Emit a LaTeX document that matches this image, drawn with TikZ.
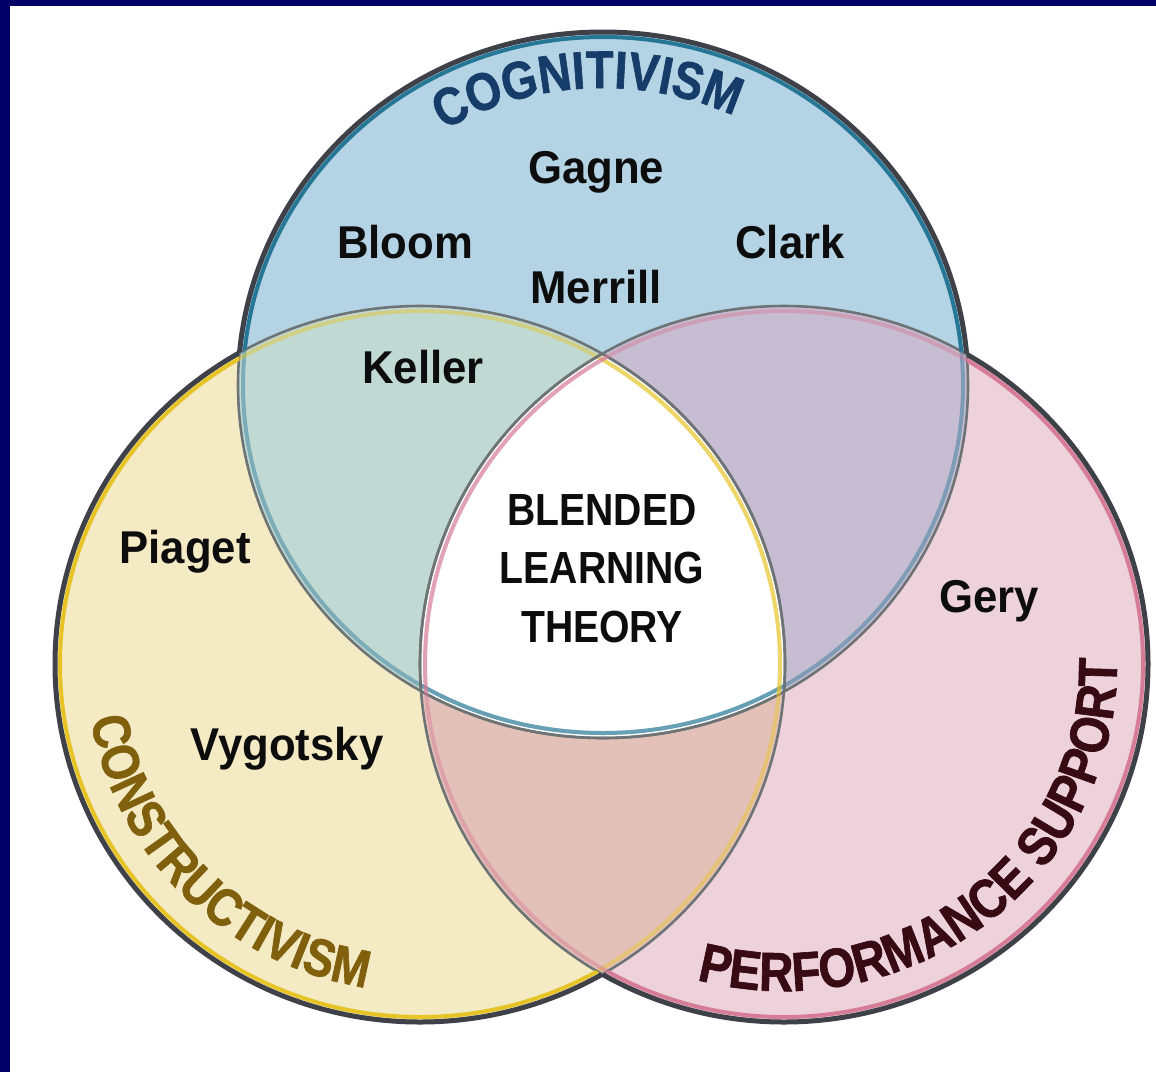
\documentclass[tikz,border=0pt]{standalone}
\usepackage{fontspec}
\setmainfont{Liberation Sans}
\newfontfamily\namefont[FakeStretch=0.95]{Liberation Sans}
\newfontfamily\condfont[FakeStretch=0.87]{Liberation Sans}
\newfontfamily\titfam[FakeStretch=0.86,FakeBold=1.2]{Liberation Sans}
\usetikzlibrary{decorations.text}
\definecolor{navybg}{RGB}{0,0,102}
\definecolor{cB}{RGB}{180,211,228}
\definecolor{cY}{RGB}{244,235,197}
\definecolor{cP}{RGB}{237,210,219}
\definecolor{cBY}{RGB}{193,217,211}
\definecolor{cBP}{RGB}{199,189,210}
\definecolor{cYP}{RGB}{228,193,184}
\definecolor{rimdark}{RGB}{62,66,72}
\definecolor{bandB}{RGB}{38,118,150}
\definecolor{bandY}{RGB}{230,196,40}
\definecolor{bandP}{RGB}{214,124,152}
\definecolor{innergray}{RGB}{110,116,118}
\definecolor{cogtext}{RGB}{22,60,105}
\definecolor{context}{RGB}{128,96,12}
\definecolor{perftext}{RGB}{55,10,20}
\newcommand\ellB{(603,385) ellipse [x radius=365, y radius=353]}
\newcommand\ellY{(420,664) ellipse [x radius=365, y radius=358]}
\newcommand\ellP{(784,664) ellipse [x radius=364, y radius=358]}
\newcommand\bandellB{(603,385) ellipse [x radius=360, y radius=348]}
\newcommand\bandellY{(420,664) ellipse [x radius=360, y radius=353]}
\newcommand\bandellP{(784,664) ellipse [x radius=359, y radius=353]}
\newcommand\bigrect{(0,0) rectangle (1156,1072)}
\newcommand\titlefont{\titfam\bfseries\fontsize{53}{53}\selectfont}
\newcommand\perffont{\titfam\bfseries\fontsize{55}{55}\selectfont}
\tikzset{
  nm/.style={font=\namefont\bfseries\fontsize{46}{46}\selectfont, text=black!95, inner sep=0pt, anchor=base},
  ctr/.style={font=\condfont\bfseries\fontsize{45}{45}\selectfont, text=black!95, inner sep=0pt, anchor=base},
  rimline/.style={draw=rimdark, line width=5pt},
  innerline/.style={draw=innergray, line width=2.6pt},
}
\begin{document}
\begin{tikzpicture}[x=1pt,y=-1pt]
\useasboundingbox (0,0) rectangle (1156,1072);
\fill[navybg] (0,0) rectangle (1156,1072);
\fill[white] (10,6) rectangle (1157,1073);
% region fills
\fill[cB] \ellB;
\fill[cY] \ellY;
\fill[cP] \ellP;
\begin{scope}
  \clip \ellB;
  \fill[cBY] \ellY;
  \fill[cBP] \ellP;
\end{scope}
\begin{scope}
  \clip \ellY;
  \fill[cYP] \ellP;
  \clip \ellB;
  \fill[white] \ellP;
\end{scope}
% inner arcs with glow
\begin{scope}
  \clip \ellY;
  \draw[bandB, line width=4pt, opacity=0.45] \bandellB;
  \draw[innerline] \ellB;
\end{scope}
\begin{scope}
  \clip \ellP;
  \draw[bandB, line width=4pt, opacity=0.45] \bandellB;
  \draw[innerline] \ellB;
\end{scope}
\begin{scope}
  \clip \ellB;
  \draw[bandY, line width=4pt, opacity=0.45] \bandellY;
  \draw[innerline] \ellY;
\end{scope}
\begin{scope}
  \clip \ellP;
  \draw[bandY, line width=4pt, opacity=0.45] \bandellY;
  \draw[innerline] \ellY;
\end{scope}
\begin{scope}
  \clip \ellB;
  \draw[bandP, line width=4pt, opacity=0.45] \bandellP;
  \draw[innerline] \ellP;
\end{scope}
\begin{scope}
  \clip \ellY;
  \draw[bandP, line width=4pt, opacity=0.45] \bandellP;
  \draw[innerline] \ellP;
\end{scope}
% outer rims
\begin{scope}[even odd rule]
  \clip \bigrect \ellY;
  \clip \bigrect \ellP;
  \draw[rimline] \ellB;
  \draw[bandB, line width=4pt] \bandellB;
\end{scope}
\begin{scope}[even odd rule]
  \clip \bigrect \ellB;
  \clip \bigrect \ellP;
  \draw[rimline] \ellY;
  \draw[bandY, line width=4pt] \bandellY;
\end{scope}
\begin{scope}[even odd rule]
  \clip \bigrect \ellB;
  \clip \bigrect \ellY;
  \draw[rimline] \ellP;
  \draw[bandP, line width=4pt] \bandellP;
\end{scope}
% curved titles
\path[decorate, decoration={text along path, text align=center, text color=cogtext,
  text={|\titlefont|COGNITIVISM}}]
  (603,385) ++(222:309 and 297) arc[start angle=222, end angle=312, x radius=309, y radius=297];
\path[decorate, decoration={text along path, text align=center, text color=context,
  text={|\titlefont|CONSTRUCTIVISM}}]
  (420,664) ++(189:334 and 328) arc[start angle=189, end angle=81, x radius=334, y radius=328];
\path[decorate, decoration={text along path, text align=center, text color=perftext,
  text={|\perffont|PERFORMANCE SUPPORT}}]
  (784,664) ++(121:333 and 327) arc[start angle=121, end angle=-17, x radius=333, y radius=327];
% names
\node[nm] (gagne) at (596,183) {Gagne};
\node[nm] (bloom) at (405,258) {Bloom};
\node[nm] (clark) at (790,258) {Clark};
\node[nm] (merrill) at (596,303) {Merrill};
\node[nm] (keller) at (423,383) {Keller};
\node[nm] (piaget) at (185,563) {Piaget};
\node[nm] (vygotsky) at (287,760) {Vygotsky};
\node[nm] (gery) at (989,612) {Gery};
% centre
\node[ctr] (blended) at (602,525) {BLENDED};
\node[ctr] (learning) at (602,583) {LEARNING};
\node[ctr] (theory) at (602,642) {THEORY};
\end{tikzpicture}
\end{document}
